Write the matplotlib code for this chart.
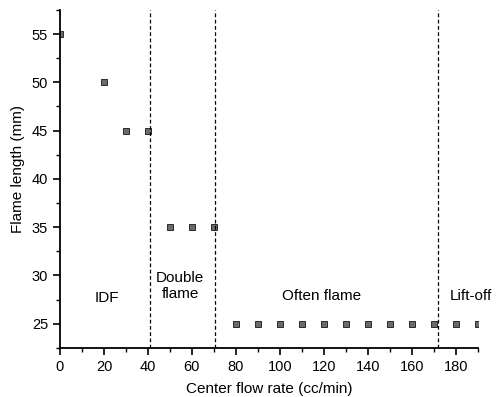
import matplotlib
matplotlib.use("Agg")
import matplotlib.pyplot as plt
from matplotlib.ticker import MultipleLocator

plt.rcParams['font.family'] = ['Liberation Sans', 'DejaVu Sans']

flow = [0, 20, 30, 40, 50, 60, 70, 80, 90, 100, 110, 120, 130, 140, 150, 160, 170, 180, 190]
length = [55, 50, 45, 45, 35, 35, 35, 25, 25, 25, 25, 25, 25, 25, 25, 25, 25, 25, 25]
boundaries = [41, 70.5, 172]
regions = ["IDF", "Double\nflame", "Often flame", "Lift-off"]
region_x = [21.5, 54.7, 119, 187]
region_y = [27.7, 28.9, 27.9, 27.9]

fig = plt.figure(figsize=(4.97, 3.97), dpi=100)
ax = fig.add_axes([0.1207, 0.124, 0.961 - 0.1207, 0.975 - 0.124])

ax.plot(flow, length, linestyle='none', marker='s', markersize=4,
        markerfacecolor='#6a6a6a', markeredgecolor='#2a2a2a', markeredgewidth=0.7,
        clip_on=True)
for b in boundaries:
    ax.axvline(b, color='black', linestyle=(0, (3, 2)), linewidth=0.9)
for t, x, y in zip(regions, region_x, region_y):
    ax.text(x, y, t, ha='center', va='center', fontsize=11, linespacing=1.2)

ax.set_xlim(0, 190)
ax.set_ylim(22.5, 57.5)
ax.xaxis.set_major_locator(MultipleLocator(20))
ax.xaxis.set_minor_locator(MultipleLocator(10))
ax.yaxis.set_major_locator(MultipleLocator(5))
ax.yaxis.set_minor_locator(MultipleLocator(2.5))
ax.spines['top'].set_visible(False)
ax.spines['right'].set_visible(False)
ax.spines['left'].set_linewidth(1.3)
ax.spines['bottom'].set_linewidth(1.3)
ax.tick_params(which='major', direction='out', length=5, width=1.2, labelsize=10.5)
ax.tick_params(which='minor', direction='out', length=3, width=1.0)
ax.set_xlabel("Center flow rate (cc/min)", fontsize=11, labelpad=6)
ax.set_ylabel("Flame length (mm)", fontsize=11)
ax.yaxis.set_label_coords(-0.084, 0.528)

fig.savefig("out.png", dpi=100)
